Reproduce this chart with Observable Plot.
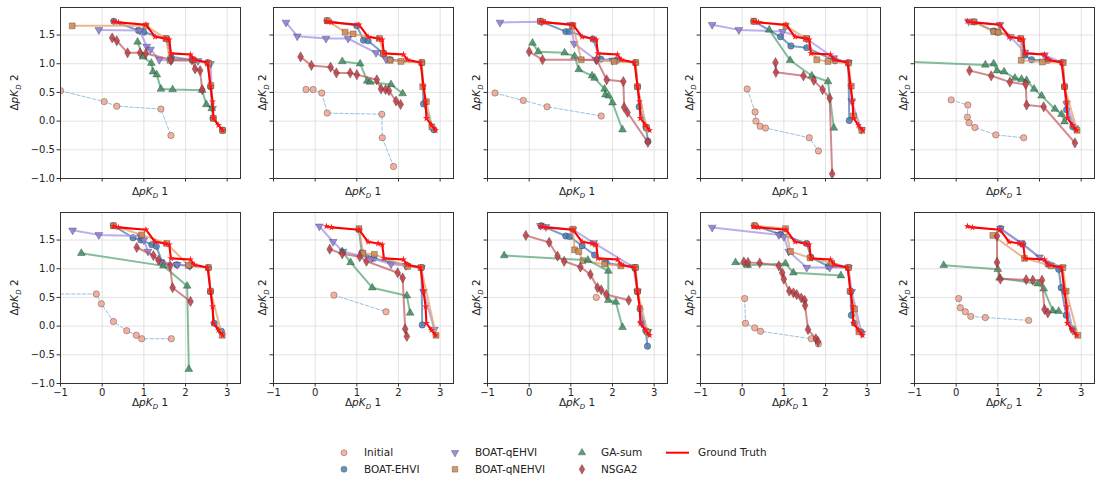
<!DOCTYPE html>
<html><head><meta charset="utf-8">
<script src="https://cdn.jsdelivr.net/npm/d3@7"></script>
<script src="https://cdn.jsdelivr.net/npm/@observablehq/plot@0.6"></script>
<style>
html,body{margin:0;padding:0;background:#fff;overflow:hidden;font-family:"DejaVu Sans",sans-serif;}
#root{position:relative;width:1095px;height:478px;overflow:hidden;}
#root svg{position:absolute;}
</style></head><body><div id="root"></div>
<script>
const xTicks = [-1, 0, 1, 2, 3];
const yTicks = [-1, -0.5, 0, 0.5, 1, 1.5];
const seriesNames = ["Initial", "BOAT-EHVI", "BOAT-qEHVI", "BOAT-qNEHVI", "GA-sum", "NSGA2", "Ground Truth"];

const groundTruth = [[0.27,1.74],[0.39,1.72],[1.05,1.68],[1.27,1.47],[1.51,1.44],[1.61,1.42],[1.65,1.18],[2.12,1.16],[2.21,1.07],[2.53,1.02],[2.6,0.61],[2.65,0.34],[2.67,0.05],[2.79,-0.07],[2.89,-0.16]];

const initial = [
  [[-1.0,0.53],[0.05,0.34],[0.35,0.26],[1.41,0.21],[1.65,-0.25]],
  [[-0.22,0.55],[-0.05,0.55],[0.16,0.49],[0.29,0.14],[1.6,0.12],[1.61,-0.29],[1.88,-0.79]],
  [[-0.82,0.49],[-0.14,0.36],[0.43,0.25],[1.73,0.09]],
  [[0.12,0.56],[0.31,0.16],[0.33,0.0],[0.43,-0.09],[0.56,-0.12],[1.61,-0.29],[1.83,-0.52]],
  [[-0.12,0.37],[0.28,0.28],[0.27,0.07],[0.31,-0.03],[0.45,-0.11],[0.95,-0.24],[1.62,-0.29]],
  [[-1.4,0.56],[-0.14,0.56],[-0.02,0.39],[0.27,0.08],[0.59,-0.08],[0.82,-0.16],[0.95,-0.22],[1.66,-0.22]],
  [[0.45,0.54],[1.7,0.25]],
  [[1.61,0.5]],
  [[0.06,0.48],[0.08,0.05],[0.3,-0.03],[0.44,-0.09],[1.66,-0.22],[1.83,-0.31]],
  [[0.06,0.48],[0.1,0.32],[0.22,0.25],[0.35,0.17],[0.7,0.15],[1.74,0.1]]
];

const boatEHVI = [
  [[0.28,1.74],[0.87,1.58],[1.0,1.55],[1.55,1.43],[1.65,1.12],[2.2,1.06],[2.53,1.02],[2.6,0.6],[2.66,0.05],[2.89,-0.16]],
  [[0.29,1.75],[1.0,1.66],[1.16,1.41],[1.27,1.4],[1.64,1.18],[1.8,1.07],[2.56,1.02],[2.6,0.3],[2.85,-0.15]],
  [[0.27,1.74],[0.88,1.56],[0.97,1.56],[1.53,1.43],[1.72,1.08],[2.1,1.06],[2.55,1.02],[2.6,0.6],[2.64,0.25],[2.8,-0.1],[2.85,-0.35]],
  [[0.28,1.74],[0.92,1.47],[1.17,1.31],[1.55,1.28],[2.23,1.05],[2.55,1.02],[2.57,0.01]],
  [[0.43,1.73],[0.9,1.57],[1.0,1.55],[1.55,1.43],[1.65,1.15],[1.81,1.07],[2.2,1.06],[2.55,1.02],[2.6,0.6],[2.65,0.2],[2.8,-0.1]],
  [[0.27,1.75],[0.74,1.54],[0.93,1.5],[1.19,1.42],[1.3,1.39],[1.45,1.1],[1.79,1.07],[2.1,1.05],[2.55,1.02],[2.6,0.6],[2.69,0.05],[2.86,-0.09]],
  [[1.05,1.68],[1.12,1.28],[1.4,1.18],[2.2,1.06],[2.55,1.02],[2.57,0.02]],
  [[0.29,1.75],[0.88,1.57],[0.97,1.56],[1.27,1.4],[1.57,1.24],[1.85,1.1],[2.55,1.02],[2.6,0.6],[2.66,0.3],[2.8,-0.08],[2.84,-0.35]],
  [[0.3,1.75],[0.92,1.6],[1.55,1.44],[1.65,1.2],[2.07,1.04],[2.55,1.02],[2.6,0.6],[2.62,0.19],[2.7,0.05],[2.85,-0.1]],
  [[1.06,1.7],[1.6,1.43],[2.2,1.08],[2.46,0.99],[2.52,0.67],[2.64,0.19],[2.8,-0.05]]
];

const boatQEHVI = [
  [[-0.08,1.59],[0.9,1.58],[1.07,1.3],[1.16,1.25],[1.37,1.07],[1.65,1.05],[2.3,1.05],[2.6,1.0],[2.65,0.22]],
  [[-0.7,1.72],[-0.43,1.48],[0.26,1.44],[0.79,1.44],[1.46,1.19],[1.7,1.08]],
  [[-0.7,1.72],[0.3,1.73],[1.0,1.68],[1.08,1.35],[1.6,1.07],[2.0,1.06]],
  [[-0.72,1.68],[-0.08,1.59],[0.97,1.56],[1.54,1.44],[2.2,1.1],[2.55,1.02],[2.63,0.35],[2.86,-0.15]],
  [[0.3,1.74],[1.05,1.68],[1.3,1.47],[1.65,1.2],[2.12,1.15],[2.55,1.02],[2.65,0.3],[2.85,-0.12]],
  [[-0.71,1.67],[-0.08,1.59],[0.92,1.57],[1.0,1.5],[1.1,1.3],[1.4,1.12],[1.8,1.07],[2.1,1.05]],
  [[0.1,1.74],[0.43,1.47],[0.67,1.3],[1.35,1.18],[1.82,1.08],[2.18,1.05],[2.55,1.02],[2.6,0.6],[2.86,-0.06]],
  [[0.27,1.75],[0.4,1.73],[1.05,1.68],[1.55,1.45],[2.5,1.03],[2.6,0.6],[2.7,0.05],[2.85,-0.1]],
  [[-0.72,1.72],[0.88,1.59],[1.0,1.56],[1.12,1.3],[1.55,1.02],[2.1,1.02],[2.55,1.02],[2.63,0.6],[2.87,-0.13]],
  [[1.06,1.7],[1.55,1.45],[2.0,1.2],[2.55,1.02],[2.6,0.6],[2.8,-0.08]]
];

const boatQNEHVI = [
  [[-0.72,1.66],[1.05,1.66],[1.53,1.44],[1.63,1.06],[2.17,1.07],[2.55,1.01],[2.61,0.62],[2.67,0.05],[2.89,-0.16]],
  [[0.29,1.75],[0.72,1.55],[0.91,1.52],[1.54,1.44],[1.64,1.18],[1.8,1.06],[2.06,1.04],[2.56,1.02],[2.58,0.6],[2.67,0.34],[2.8,-0.1]],
  [[0.27,1.74],[1.05,1.66],[1.25,1.07],[2.04,1.04],[2.56,1.02],[2.6,0.6],[2.82,-0.12]],
  [[0.28,1.74],[1.05,1.66],[1.54,1.44],[1.79,1.07],[2.06,1.04],[2.55,1.01],[2.62,0.61],[2.67,0.09],[2.87,-0.16]],
  [[0.43,1.73],[0.9,1.56],[1.01,1.55],[1.55,1.44],[1.56,1.06],[2.07,1.03],[2.57,1.02],[2.6,0.6],[2.9,-0.16]],
  [[0.27,1.75],[0.95,1.59],[1.55,1.44],[2.07,1.06],[2.55,1.02],[2.6,0.61],[2.88,-0.16]],
  [[1.05,1.7],[1.15,1.27],[1.42,1.25],[2.22,1.04],[2.54,1.02],[2.9,-0.16]],
  [[1.05,1.69],[1.09,1.33],[1.19,1.3],[1.29,1.14],[1.81,1.08],[2.2,1.05],[2.55,1.02],[2.6,0.61],[2.84,-0.1]],
  [[0.3,1.75],[1.04,1.7],[1.16,1.3],[1.63,1.19],[2.15,1.1],[2.55,1.02],[2.59,0.61],[2.7,0.3],[2.8,-0.1]],
  [[0.88,1.58],[1.64,1.18],[2.28,1.05],[2.56,1.02],[2.64,0.61],[2.92,-0.16]]
];

const gaSum = [
  [[0.85,1.38],[0.98,1.12],[1.18,1.01],[1.22,0.86],[1.31,0.81],[1.41,0.56],[1.69,0.55],[2.4,0.54],[2.5,0.29],[2.63,0.22]],
  [[0.65,1.04],[1.08,1.0],[1.25,0.7],[1.32,0.68],[1.82,0.64],[2.1,0.48]],
  [[0.08,1.36],[0.22,1.21],[0.85,1.19],[1.09,1.13],[1.19,0.9],[1.51,0.79],[1.57,0.75],[1.81,0.56],[1.83,0.46],[1.91,0.44],[2.0,0.32],[2.24,-0.15]],
  [[0.65,1.59],[1.15,1.06],[1.67,0.79],[2.06,0.69],[2.2,-0.12]],
  [[-1.3,1.04],[0.7,0.98],[0.9,1.0],[0.98,0.88],[1.15,0.86],[1.41,0.75],[1.57,0.73],[1.69,0.71],[1.87,0.56],[2.05,0.44],[2.37,0.21],[2.53,0.12],[2.6,-0.01]],
  [[-0.5,1.27],[1.47,1.05],[2.04,0.7],[2.08,-0.75]],
  [[0.65,1.3],[0.85,1.11],[1.37,0.67],[2.2,0.53],[2.28,0.23]],
  [[-0.6,1.23],[1.41,1.15],[1.9,0.96],[1.9,0.45],[2.08,0.42],[2.24,-0.02]],
  [[-0.16,1.11],[0.13,1.06],[1.04,1.09],[1.23,0.93],[2.37,0.88]],
  [[-0.3,1.06],[1.0,0.99],[1.04,0.84],[1.96,0.74],[2.1,0.65],[2.32,0.27],[2.46,0.26]]
];

const nsga2 = [
  [[0.24,1.45],[0.35,1.4],[0.61,1.19],[0.91,1.19],[1.05,1.18],[1.65,1.07],[2.15,1.07],[2.23,0.91],[2.35,0.88],[2.4,0.55]],
  [[-0.35,1.12],[-0.09,0.97],[0.37,0.94],[0.51,0.84],[0.84,0.84],[1.0,0.81],[1.48,0.72],[1.58,0.56],[1.69,0.55],[1.77,0.53],[1.94,0.35],[2.05,0.29]],
  [[0.0,1.21],[0.32,1.07],[1.62,1.07],[1.86,0.72],[2.26,0.69],[2.28,0.24],[2.36,0.15],[2.85,-0.37]],
  [[0.8,1.02],[0.81,0.85],[1.47,0.79],[1.72,0.71],[1.93,0.55],[2.1,0.4],[2.16,-0.92]],
  [[0.32,0.88],[0.84,0.79],[1.29,0.68],[1.67,0.64],[1.69,0.28],[2.1,0.25],[2.85,-0.38]],
  [[0.83,1.37],[1.23,1.23],[1.35,1.15],[1.63,1.05],[1.69,0.67],[2.12,0.43]],
  [[0.35,1.34],[0.65,1.26],[1.07,1.21],[1.23,1.13],[1.98,0.93],[2.1,0.84],[2.16,-0.05],[2.2,-0.18]],
  [[-0.08,1.58],[0.48,1.46],[0.68,1.22],[0.84,1.13],[1.23,1.03],[1.47,0.9],[1.64,0.67],[1.73,0.63],[1.85,0.55],[2.39,0.45]],
  [[0.04,1.12],[0.14,1.11],[0.42,1.1],[0.88,1.05],[0.96,0.93],[1.0,0.82],[1.13,0.61],[1.23,0.58],[1.31,0.55],[1.42,0.49],[1.5,0.45],[1.51,0.36],[1.58,-0.06],[1.77,-0.22],[1.82,-0.27]],
  [[0.98,1.57],[0.98,1.11],[1.06,0.82],[1.68,0.81],[1.84,0.8],[2.06,0.8],[2.12,0.29],[2.2,0.23]]
];

// custom down-pointing triangle
const triangleDown = {
  draw(context, size) {
    const y = -Math.sqrt(size / (3 * Math.sqrt(3)));
    context.moveTo(0, -y * 2);
    context.lineTo(-Math.sqrt(3) * y, y);
    context.lineTo(Math.sqrt(3) * y, y);
    context.closePath();
  }
};

const styles = {
  "Initial":      {data: initial,    symbol: "circle",  r: 3.2, fill: "#f2a58e", line: "#86b6dc", lw: 1,   lo: 0.85, dash: "3.5,2"},
  "BOAT-EHVI":    {data: boatEHVI,   symbol: "circle",  r: 3.2, fill: "#4a7fb5", line: "#4a7fb5", lw: 2,   lo: 0.75},
  "BOAT-qEHVI":   {data: boatQEHVI,  symbol: triangleDown, r: 2.9, fill: "#8c7ad8", line: "#a593e6", lw: 2, lo: 0.75},
  "BOAT-qNEHVI":  {data: boatQNEHVI, symbol: "square",  r: 3.3, fill: "#d2874c", line: "#e3a068", lw: 2,   lo: 0.75},
  "GA-sum":       {data: gaSum,      symbol: "triangle",r: 2.9, fill: "#3e9160", line: "#5aa77a", lw: 2,   lo: 0.75},
  "NSGA2":        {data: nsga2,      symbol: "diamond", r: 3.1, fill: "#bf3a42", line: "#c0595d", lw: 2,   lo: 0.7},
  "Ground Truth": {data: null,       symbol: "star",    r: 2.2, fill: "#ff1a1a", line: "#ff0000", lw: 2.1, lo: 1}
};

const colLefts = [60, 273.4, 486.8, 700.2, 913.6];
const rowTops = [7, 212];
const PW = 180, PH = 171;

const fmtX = d => String(d).replace("-", "\u2212");
const fmtY = d => d.toFixed(1).replace("-", "\u2212");

function addMathLabel(sel, n) {
  sel.append("tspan").text("\u0394");
  sel.append("tspan").attr("font-style", "italic").text("pK");
  sel.append("tspan").attr("font-style", "italic").attr("font-size", "7px").attr("dy", "2.5").text("D");
  sel.append("tspan").attr("dy", "-2.5").text(" " + n);
}

const root = document.getElementById("root");

for (let i = 0; i < 10; i++) {
  const col = i % 5, row = Math.floor(i / 5);
  const ml = 50, mr = 6, mt = 6, mb = 30;
  const marks = [
    Plot.gridX(xTicks, {stroke: "#dcdcdc", strokeOpacity: 1, strokeWidth: 0.8}),
    Plot.gridY(yTicks, {stroke: "#dcdcdc", strokeOpacity: 1, strokeWidth: 0.8})
  ];
  for (const name of seriesNames) {
    const s = styles[name];
    const pts = s.data ? s.data[i] : groundTruth;
    const gt = name === "Ground Truth";
    marks.push(Plot.line(pts, {
      x: d => d[0], y: d => d[1], stroke: s.line, strokeWidth: s.lw, strokeOpacity: s.lo,
      strokeDasharray: s.dash, clip: true
    }));
    marks.push(Plot.dot(pts, {
      x: d => d[0], y: d => d[1], symbol: s.symbol, r: s.r, fill: s.fill,
      fillOpacity: gt ? 1 : 0.85,
      stroke: gt ? "none" : "#222",
      strokeOpacity: 0.55, strokeWidth: 0.6, clip: true
    }));
  }
  marks.push(Plot.frame({stroke: "#333", strokeWidth: 1}));
  marks.push(Plot.axisX(xTicks, {anchor: "bottom", tickSize: 3.5, tickPadding: 2, label: null, stroke: "#333",
    tickFormat: row === 1 ? fmtX : () => ""}));
  marks.push(Plot.axisY(yTicks, {anchor: "left", tickSize: 3.5, tickPadding: 2, label: null, stroke: "#333",
    tickFormat: col === 0 ? fmtY : () => ""}));

  const svg = Plot.plot({
    width: ml + PW + mr, height: mt + PH + mb,
    marginLeft: ml, marginRight: mr, marginTop: mt, marginBottom: mb,
    x: {domain: [-1, 3.32]},
    y: {domain: [-1, 1.98]},
    style: {background: "transparent", fontFamily: "DejaVu Sans", fontSize: "10px", color: "#222", overflow: "visible"},
    marks
  });
  svg.style.left = (colLefts[col] - ml) + "px";
  svg.style.top = (rowTops[row] - mt) + "px";
  svg.style.maxWidth = "none";
  const g = d3.select(svg);
  const xl = g.append("text").attr("x", ml + PW / 2).attr("y", mt + PH + (row === 1 ? 23 : 17))
    .attr("text-anchor", "middle").attr("font-family", "DejaVu Sans").attr("font-size", "10.5px").attr("fill", "#222");
  addMathLabel(xl, "1");
  const yx = ml - (col === 0 ? 42 : 7), yy = mt + PH / 2;
  const yl = g.append("text").attr("transform", `translate(${yx},${yy}) rotate(-90)`)
    .attr("text-anchor", "middle").attr("font-family", "DejaVu Sans").attr("font-size", "10.5px").attr("fill", "#222");
  addMathLabel(yl, "2");
  root.appendChild(svg);
}

// Legend
const legendItems = [
  {name: "Initial", cx: 344, tx: 364, ry: 0},
  {name: "BOAT-EHVI", cx: 344, tx: 364, ry: 1},
  {name: "BOAT-qEHVI", cx: 455, tx: 475, ry: 0},
  {name: "BOAT-qNEHVI", cx: 455, tx: 475, ry: 1},
  {name: "GA-sum", cx: 582, tx: 601, ry: 0},
  {name: "NSGA2", cx: 582, tx: 601, ry: 1},
  {name: "Ground Truth", cx: 677, tx: 698, ry: 0}
];
const legend = d3.create("svg").attr("width", 1095).attr("height", 40)
  .style("left", "0px").style("top", "438px");
const rowY = [14.7, 31.3];
const symMap = {circle: d3.symbolCircle, square: d3.symbolSquare, triangle: d3.symbolTriangle, diamond: d3.symbolDiamond, star: d3.symbolStar};
for (const it of legendItems) {
  const s = styles[it.name];
  const y = rowY[it.ry];
  if (it.name === "Ground Truth") {
    legend.append("line").attr("x1", 666).attr("x2", 689).attr("y1", y).attr("y2", y)
      .attr("stroke", "#ff0000").attr("stroke-width", 2);
  } else {
    const sym = typeof s.symbol === "string" ? symMap[s.symbol] : s.symbol;
    legend.append("path").attr("d", d3.symbol(sym, Math.PI * (s.r * 0.95) ** 2)())
      .attr("transform", `translate(${it.cx},${y})`)
      .attr("fill", s.fill).attr("fill-opacity", 0.85).attr("stroke", "#222").attr("stroke-opacity", 0.5).attr("stroke-width", 0.6);
  }
  legend.append("text").attr("x", it.tx).attr("y", y).attr("dy", "0.35em")
    .attr("font-family", "DejaVu Sans").attr("font-size", "10.5px").attr("fill", "#222").text(it.name);
}
root.appendChild(legend.node());
</script>
</body></html>
